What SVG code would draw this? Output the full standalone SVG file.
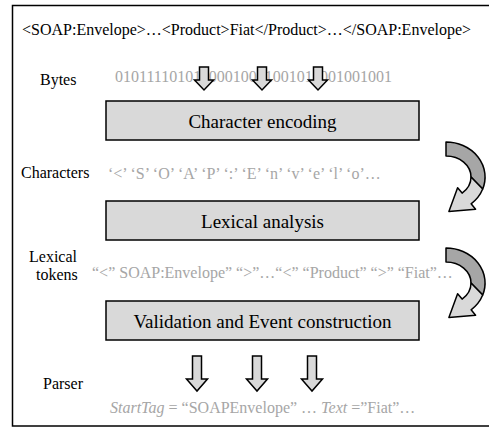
<svg xmlns="http://www.w3.org/2000/svg" xmlns:xlink="http://www.w3.org/1999/xlink" width="489" height="430" viewBox="0 0 489 430">
<style>
text{font-family:"Liberation Serif","Times New Roman",serif;font-size:16px;fill:#000}
.g{fill:#a6a6a6}
.box{fill:#d9d9d9;stroke:#000;stroke-width:1.5}
.bt{font-size:19px;text-anchor:middle}
.arr{fill:#d9d9d9;stroke:#000;stroke-width:1.5;stroke-linejoin:miter}
.dk{fill:#a6a6a6;stroke:#000;stroke-width:1.5;stroke-linejoin:round}
.lt{fill:#d9d9d9;stroke:#000;stroke-width:1.5;stroke-linejoin:round}
</style>
<defs>
<path id="da" class="arr" d="M-4.5,0 L4.5,0 L4.5,13 L9.5,13 L0,23 L-9.5,13 L-4.5,13 Z"/>
<path id="db" class="arr" d="M-4.5,0 L4.5,0 L4.5,23 L10.5,23 L0,35 L-10.5,23 L-4.5,23 Z"/>
<g id="ca">
<path class="dk" d="M446,142 A39,35 0 0 1 482.7,189 L471,177 A25,21 0 0 0 446,156 Z"/>
<path class="lt" d="M482.7,189 A39,35 0 0 1 471.1,203.8 L475.6,209.2 L448.9,211.5 L457.6,187.7 L462.1,193.1 A25,21 0 0 0 471,177 Z"/>
</g>
</defs>
<rect id="frame" x="12.5" y="5.5" width="500" height="420.5" fill="#fff" stroke="#000" stroke-width="1.5"/>
<g id="labels">
<text x="22" y="35">&lt;SOAP:Envelope&gt;…&lt;Product&gt;Fiat&lt;/Product&gt;…&lt;/SOAP:Envelope&gt;</text>
<text x="40" y="85">Bytes</text>
<text class="g" x="115" y="82">01011110101100010001001011001001001</text>
<text x="21" y="178">Characters</text>
<text class="g" x="108" y="179">‘&lt;’ ‘S’ ‘O’ ‘A’ ‘P’ ‘:’ ‘E’ ‘n’ ‘v’ ‘e’ ‘l’ ‘o’…</text>
<text x="29" y="262">Lexical</text>
<text x="36" y="280">tokens</text>
<text class="g" x="92" y="278">“&lt;” SOAP:Envelope” “&gt;”…“&lt;” “Product” “&gt;” “Fiat”…</text>
<text x="43" y="389">Parser</text>
<text class="g" x="110" y="413"><tspan font-style="italic">StartTag</tspan> = “SOAPEnvelope” … <tspan font-style="italic">Text</tspan> =”Fiat”…</text>
</g>
<g id="node-encoding">
<rect class="box" x="106" y="101" width="313" height="39"/>
<text class="bt" x="262.5" y="128">Character encoding</text>
</g>
<g id="node-lexical">
<rect class="box" x="106" y="201" width="313" height="39"/>
<text class="bt" x="262.5" y="228">Lexical analysis</text>
</g>
<g id="node-validation">
<rect class="box" x="106" y="301" width="313" height="39"/>
<text class="bt" x="262.5" y="328">Validation and Event construction</text>
</g>
<g id="connectors">
<use xlink:href="#da" href="#da" x="204" y="67"/>
<use xlink:href="#da" href="#da" x="262" y="67"/>
<use xlink:href="#da" href="#da" x="318" y="67"/>
<use xlink:href="#ca" href="#ca"/>
<use xlink:href="#ca" href="#ca" y="106"/>
<use xlink:href="#db" href="#db" x="197" y="356"/>
<use xlink:href="#db" href="#db" x="257" y="356"/>
<use xlink:href="#db" href="#db" x="312" y="356"/>
</g>
</svg>
